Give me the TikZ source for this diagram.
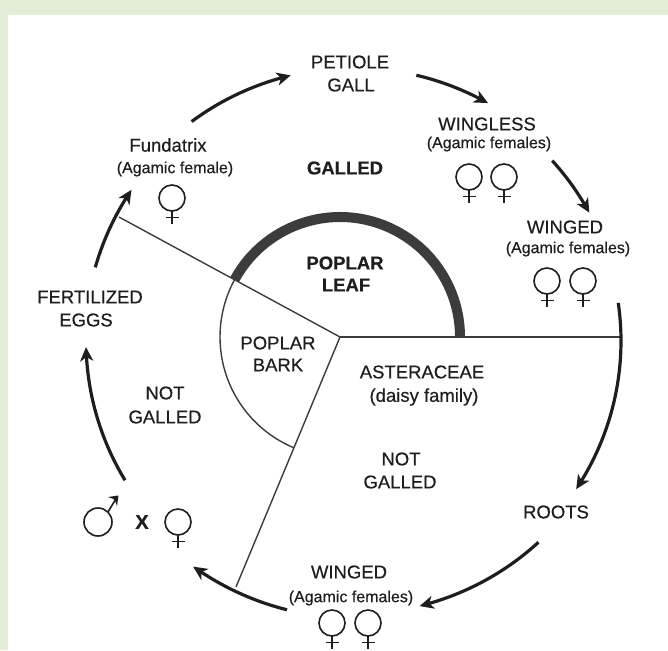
\documentclass[tikz,border=0pt]{standalone}
\usepackage{fontspec}
\setmainfont{Liberation Sans}[FakeBold=0.4]
\usetikzlibrary{arrows.meta,bending,calc}
\definecolor{bggreen}{RGB}{226,238,216}
\definecolor{ink}{RGB}{30,30,30}
\definecolor{linegray}{RGB}{60,60,60}
\begin{document}
\begin{tikzpicture}[x=1pt,y=-1pt,
  lbl/.style={inner sep=0pt,anchor=center,text=ink,font=\fontsize{18.5}{22}\selectfont},
  sub/.style={inner sep=0pt,anchor=center,text=ink,font=\fontsize{16}{19}\selectfont},
  bld/.style={inner sep=0pt,anchor=center,text=ink,font=\fontsize{18.5}{22}\selectfont\bfseries},
  arr/.style={line width=3.2pt,draw=ink,-{Stealth[length=14pt,width=13pt,inset=4pt,bend]}},
  thin/.style={line width=1.4pt,draw=linegray},
  symb/.style={line width=1.6pt,draw=ink},
  female/.pic={\draw[symb] (0,0) circle[radius=13];
               \draw[symb] (0,13) -- (0,26);
               \draw[symb] (-6.5,19.5) -- (6.5,19.5);}
]
\useasboundingbox (0,0) rectangle (668,650);
\fill[bggreen] (0,0) rectangle (668,650);
\fill[white] (8,15) rectangle (668,650);

% pie
\coordinate (P) at (340,337);
\coordinate (E) at (620,337);
\coordinate (UL) at (119,217);
\coordinate (LL) at (236,587);
\draw[thin] (P) -- (E);
\draw[thin] (P) -- (UL);
\draw[thin] (P) -- (LL);
\draw[line width=10pt,draw=linegray] ($(P)+(-151.5:120)$) arc[start angle=-151.5,end angle=0,radius=120];
\draw[thin] ($(P)+(112.6:120)$) arc[start angle=112.6,end angle=208.5,radius=120];

% outer cycle arrows
\coordinate (C) at (354,341);
\coordinate (a1) at ($(C)+(-126.5:273)$);
\coordinate (a2) at ($(C)+(-76.8:273)$);
\coordinate (a3) at ($(C)+(-42.3:268)$);
\coordinate (a4) at ($(C)+(-8.2:267)$);
\coordinate (a5) at ($(C)+(47.5:273)$);
\coordinate (a6) at ($(C)+(104:277)$);
\coordinate (a7) at ($(C)+(148.7:268)$);
\coordinate (a8) at ($(C)+(-164.1:269)$);
\draw[arr] (a1) arc[start angle=-126.5,end angle=-103.4,radius=273];
\draw[arr] (a2) arc[start angle=-76.8,end angle=-60.6,radius=273];
\draw[arr] (a3) arc[start angle=-42.3,end angle=-28.6,radius=268];
\draw[arr] (a4) arc[start angle=-8.2,end angle=33.7,radius=267];
\draw[arr] (a5) arc[start angle=47.5,end angle=76.1,radius=273];
\draw[arr] (a6) arc[start angle=104,end angle=125.5,radius=277];
\draw[arr] (a7) arc[start angle=148.7,end angle=178.7,radius=268];
\draw[arr] (a8) arc[start angle=-164.1,end angle=-145.8,radius=269];

% labels
\node[lbl] (pet1) at (350,62) {PETIOLE};
\node[lbl] (pet2) at (351,85) {GALL};
\node[lbl] (wl1) at (487,124) {WINGLESS};
\node[sub] (wl2) at (489,144) {(Agamic females)};
\pic at (469,177) {female};
\pic at (504,177) {female};
\node[lbl] (wg1) at (565,227) {WINGED};
\node[sub] (wg2) at (568,249) {(Agamic females)};
\pic at (547,281) {female};
\pic at (583,281) {female};
\node[lbl] (roots) at (556,512) {ROOTS};
\node[lbl] (wb1) at (349,572) {WINGED};
\node[sub] (wb2) at (351,598) {(Agamic females)};
\pic at (332,623) {female};
\pic at (368,623) {female};
% male x female
\draw[symb] (98,522) circle[radius=14];
\draw[symb] ($(98,522)+(-45:14)$) coordinate (mstart) -- (117,497) coordinate (mtip);
\fill[ink] ($(mtip)+(1.5,-1.5)$) -- ($(mtip)+(-9,0)$) -- ($(mtip)+(-3.5,2)$) -- ($(mtip)+(-2,3.5)$) -- ($(mtip)+(0,9)$) -- cycle;
\node[bld,font=\fontsize{20}{22}\selectfont\bfseries] (cross) at (142,522) {X};
\pic at (178,522) {female};
\node[lbl] (fe1) at (90,297) {FERTILIZED};
\node[lbl] (fe2) at (86,320) {EGGS};
\node[lbl] (fu1) at (168,145) {Fundatrix};
\node[sub] (fu2) at (175,169) {(Agamic female)};
\pic at (172,198) {female};
\node[bld] (galled) at (345,168) {GALLED};
\node[bld] (pl1) at (345,263) {POPLAR};
\node[bld] (pl2) at (346,285) {LEAF};
\node[lbl] (pb1) at (278,343) {POPLAR};
\node[lbl] (pb2) at (278,365) {BARK};
\node[lbl] (ast1) at (422,372) {ASTERACEAE};
\node[lbl] (ast2) at (424,397) {(daisy family)};
\node[lbl] (ng1) at (165,393) {NOT};
\node[lbl] (ng2) at (165,417) {GALLED};
\node[lbl] (nr1) at (401,459) {NOT};
\node[lbl] (nr2) at (400,482) {GALLED};
\end{tikzpicture}
\end{document}
